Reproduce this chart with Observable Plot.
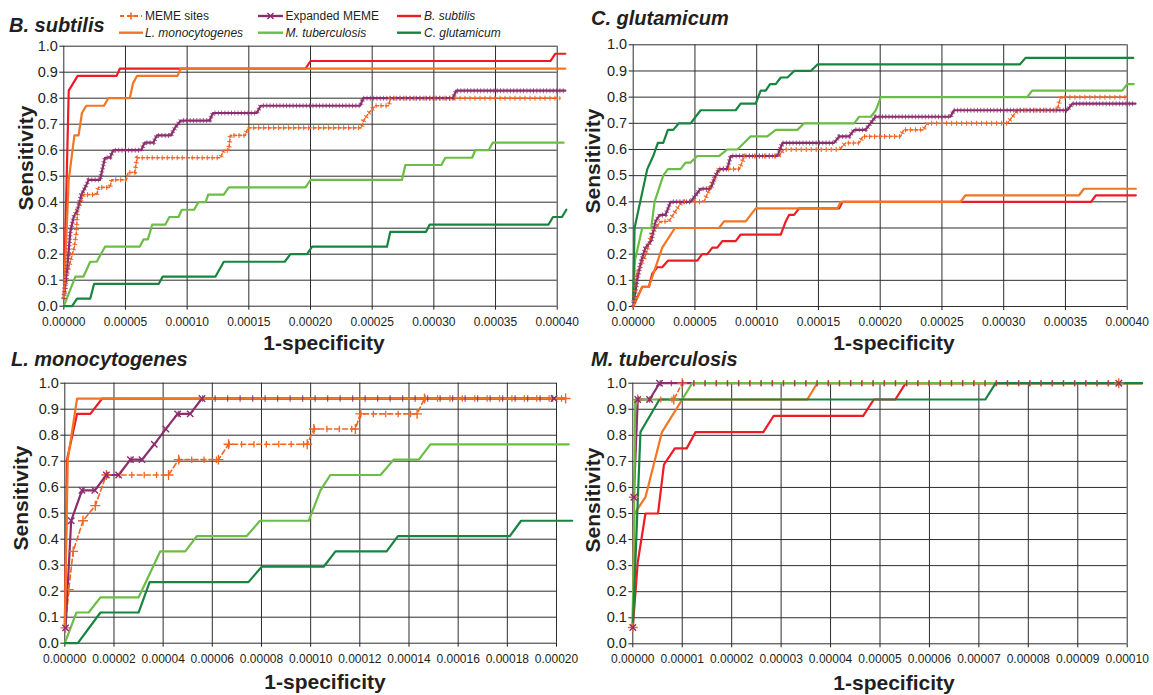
<!DOCTYPE html>
<html><head><meta charset="utf-8">
<script src="https://cdn.jsdelivr.net/npm/d3@7"></script>
<script src="https://cdn.jsdelivr.net/npm/@observablehq/plot@0.6"></script>
<style>
body{margin:0;background:#fff;}
#root{position:relative;width:1153px;height:695px;overflow:hidden;background:#fff;font-family:"Liberation Sans",Arial,sans-serif;color:#231f20;}
.pan{position:absolute;}
#over{position:absolute;left:0;top:0;pointer-events:none;}
</style></head>
<body><div id="root"></div>
<script>
// ---------- tick values ----------
const yTicks = [0,0.1,0.2,0.3,0.4,0.5,0.6,0.7,0.8,0.9,1.0];
const xTicksTop = [0,0.00005,0.0001,0.00015,0.0002,0.00025,0.0003,0.00035,0.0004];
const xTicksLmon = [0,0.00002,0.00004,0.00006,0.00008,0.0001,0.00012,0.00014,0.00016,0.00018,0.0002];
const xTicksMtb = [0,0.00001,0.00002,0.00003,0.00004,0.00005,0.00006,0.00007,0.00008,0.00009,0.0001];

const panelTitles = ["B. subtilis","C. glutamicum","L. monocytogenes","M. tuberculosis"];
const seriesNames = ["MEME sites","Expanded MEME","B. subtilis","L. monocytogenes","M. tuberculosis","C. glutamicum"];

// ---------- Panel 1: B. subtilis ----------
const bsub_meme = [[0,0.029],[0.19e-5,0.114],[0.53e-5,0.171],[0.86e-5,0.229],[1.02e-5,0.286],[1.12e-5,0.371],[1.34e-5,0.4],[1.60e-5,0.429],[2.67e-5,0.429],[2.81e-5,0.457],[3.74e-5,0.457],[3.88e-5,0.486],[5.08e-5,0.486],[5.21e-5,0.514],[5.75e-5,0.514],[5.94e-5,0.571],[12.70e-5,0.571],[12.97e-5,0.6],[13.37e-5,0.6],[13.50e-5,0.657],[14.71e-5,0.657],[14.92e-5,0.686],[24.12e-5,0.686],[24.31e-5,0.714],[24.72e-5,0.743],[25.26e-5,0.771],[26.34e-5,0.771],[26.47e-5,0.8],[40.24e-5,0.8]];
const bsub_exp = [[0,0.029],[0.27e-5,0.143],[0.53e-5,0.286],[0.80e-5,0.343],[1.12e-5,0.371],[1.42e-5,0.429],[1.74e-5,0.457],[2.01e-5,0.486],[2.94e-5,0.486],[3.34e-5,0.571],[3.74e-5,0.571],[4.01e-5,0.6],[6.28e-5,0.6],[6.55e-5,0.629],[7.27e-5,0.629],[7.54e-5,0.657],[8.69e-5,0.657],[9.01e-5,0.686],[9.49e-5,0.714],[11.82e-5,0.714],[12.09e-5,0.743],[15.64e-5,0.743],[15.96e-5,0.771],[24.04e-5,0.771],[24.26e-5,0.8],[31.56e-5,0.8],[31.8e-5,0.829],[40.66e-5,0.829]];
const bsub_bsub = [[0,0.029],[0.40e-5,0.829],[1.12e-5,0.886],[4.28e-5,0.886],[4.55e-5,0.914],[19.6e-5,0.914],[20.0e-5,0.943],[39.45e-5,0.943],[39.85e-5,0.971],[40.66e-5,0.971]];
const bsub_lmon = [[0,0.029],[0.40e-5,0.486],[0.86e-5,0.657],[1.20e-5,0.657],[1.47e-5,0.743],[1.82e-5,0.771],[3.26e-5,0.771],[3.61e-5,0.8],[5.35e-5,0.8],[5.61e-5,0.857],[5.94e-5,0.886],[9.22e-5,0.886],[9.49e-5,0.914],[40.66e-5,0.914]];
const bsub_mtb = [[0,0],[0.94e-5,0.114],[1.60e-5,0.114],[2.14e-5,0.171],[2.67e-5,0.171],[3.34e-5,0.229],[6.15e-5,0.229],[6.47e-5,0.257],[6.82e-5,0.257],[7.17e-5,0.314],[8.24e-5,0.314],[8.56e-5,0.343],[9.30e-5,0.343],[9.57e-5,0.371],[10.56e-5,0.371],[10.91e-5,0.4],[11.50e-5,0.4],[11.71e-5,0.429],[12.97e-5,0.429],[13.37e-5,0.457],[19.59e-5,0.457],[20.0e-5,0.486],[27.42e-5,0.486],[27.69e-5,0.543],[30.61e-5,0.543],[30.93e-5,0.571],[33.1e-5,0.571],[33.36e-5,0.6],[34.44e-5,0.6],[34.77e-5,0.629],[40.52e-5,0.629]];
const bsub_cglu = [[0,0],[0.67e-5,0],[1.07e-5,0.029],[2.14e-5,0.029],[2.46e-5,0.086],[7.70e-5,0.086],[8.02e-5,0.114],[12.30e-5,0.114],[12.97e-5,0.171],[17.91e-5,0.171],[18.37e-5,0.2],[19.72e-5,0.2],[20.13e-5,0.229],[26.2e-5,0.229],[26.47e-5,0.286],[29.37e-5,0.286],[29.66e-5,0.314],[39.3e-5,0.314],[39.66e-5,0.343],[40.39e-5,0.343],[40.74e-5,0.371]];

// ---------- Panel 2: C. glutamicum ----------
const cglu_meme = [[0,0],[0.27e-5,0.125],[1.05e-5,0.2],[1.46e-5,0.275],[1.81e-5,0.3],[2.22e-5,0.325],[2.89e-5,0.325],[3.57e-5,0.375],[3.95e-5,0.4],[5.73e-5,0.4],[6.4e-5,0.475],[6.95e-5,0.525],[8.6e-5,0.525],[9.0e-5,0.575],[11.8e-5,0.575],[12.2e-5,0.6],[16.7e-5,0.6],[17.2e-5,0.625],[18.3e-5,0.625],[18.6e-5,0.65],[21.65e-5,0.65],[21.9e-5,0.675],[23.5e-5,0.675],[23.8e-5,0.7],[30.3e-5,0.7],[30.7e-5,0.725],[31.1e-5,0.75],[34.33e-5,0.75],[34.6e-5,0.8],[40.0e-5,0.8]];
const cglu_exp = [[0,0],[0.32e-5,0.1],[0.65e-5,0.175],[1.00e-5,0.225],[1.46e-5,0.25],[1.81e-5,0.325],[2.16e-5,0.35],[2.62e-5,0.35],[3.03e-5,0.4],[4.65e-5,0.4],[5.05e-5,0.425],[5.46e-5,0.45],[6.27e-5,0.45],[6.68e-5,0.5],[6.95e-5,0.525],[7.62e-5,0.525],[7.89e-5,0.575],[11.68e-5,0.575],[12.08e-5,0.625],[16.27e-5,0.625],[16.68e-5,0.65],[17.49e-5,0.65],[17.89e-5,0.675],[18.81e-5,0.675],[19.62e-5,0.725],[25.69e-5,0.725],[25.96e-5,0.75],[35.14e-5,0.75],[35.55e-5,0.775],[40.67e-5,0.775]];
const cglu_bsub = [[0,0],[0.73e-5,0.075],[1.27e-5,0.075],[1.54e-5,0.125],[1.95e-5,0.15],[2.35e-5,0.15],[2.81e-5,0.175],[5.19e-5,0.175],[5.59e-5,0.2],[6.0e-5,0.2],[6.41e-5,0.225],[6.81e-5,0.225],[7.22e-5,0.25],[8.30e-5,0.25],[8.70e-5,0.275],[11.95e-5,0.275],[12.35e-5,0.325],[12.62e-5,0.35],[13.03e-5,0.35],[13.43e-5,0.375],[16.68e-5,0.375],[16.95e-5,0.4],[37.07e-5,0.4],[37.47e-5,0.425],[40.7e-5,0.425]];
const cglu_lmon = [[0,0],[0.73e-5,0.075],[1.27e-5,0.075],[2.35e-5,0.225],[3.38e-5,0.3],[6.95e-5,0.3],[7.35e-5,0.325],[9.11e-5,0.325],[9.92e-5,0.375],[16.54e-5,0.375],[16.81e-5,0.4],[26.5e-5,0.4],[26.9e-5,0.425],[36.1e-5,0.425],[36.5e-5,0.45],[40.7e-5,0.45]];
const cglu_mtb = [[0,0.025],[0.14e-5,0.175],[0.73e-5,0.3],[1.46e-5,0.3],[1.73e-5,0.4],[2.43e-5,0.5],[2.81e-5,0.525],[3.84e-5,0.525],[4.24e-5,0.55],[4.65e-5,0.55],[5.19e-5,0.575],[6.95e-5,0.575],[7.62e-5,0.6],[8.43e-5,0.6],[8.97e-5,0.625],[9.51e-5,0.65],[10.86e-5,0.65],[11.54e-5,0.675],[13.30e-5,0.675],[13.84e-5,0.7],[17.89e-5,0.7],[18.30e-5,0.725],[19.24e-5,0.725],[19.65e-5,0.75],[20.05e-5,0.8],[31.9e-5,0.8],[32.3e-5,0.825],[39.6e-5,0.825],[40.0e-5,0.85],[40.53e-5,0.85]];
const cglu_cglu = [[0,0.025],[0.11e-5,0.3],[1.14e-5,0.525],[1.62e-5,0.575],[2.0e-5,0.625],[2.43e-5,0.625],[2.81e-5,0.675],[3.24e-5,0.675],[3.70e-5,0.7],[4.65e-5,0.7],[5.46e-5,0.75],[8.30e-5,0.75],[8.70e-5,0.775],[9.92e-5,0.775],[10.32e-5,0.825],[10.73e-5,0.825],[11.08e-5,0.85],[11.54e-5,0.85],[11.95e-5,0.875],[12.49e-5,0.875],[13.03e-5,0.9],[14.38e-5,0.9],[14.92e-5,0.925],[31.3e-5,0.925],[31.77e-5,0.95],[40.49e-5,0.95]];

// ---------- Panel 3: L. monocytogenes ----------
const lmon_meme = [[0.03e-5,0.059],[0.16e-5,0.206],[0.34e-5,0.353],[0.74e-5,0.471],[1.24e-5,0.529],[1.69e-5,0.647],[4.22e-5,0.647],[4.63e-5,0.706],[6.25e-5,0.706],[6.66e-5,0.765],[9.86e-5,0.765],[10.13e-5,0.824],[11.82e-5,0.824],[12.02e-5,0.882],[14.33e-5,0.882],[14.63e-5,0.941],[20.37e-5,0.941]];
const lmon_exp = [[0.03e-5,0.059],[0.26e-5,0.471],[0.70e-5,0.588],[1.22e-5,0.588],[1.69e-5,0.647],[2.19e-5,0.647],[2.67e-5,0.706],[3.14e-5,0.706],[3.64e-5,0.765],[4.11e-5,0.824],[4.59e-5,0.882],[5.10e-5,0.882],[5.58e-5,0.941],[19.9e-5,0.941]];
const lmon_bsub = [[0,0.059],[0.09e-5,0.706],[0.50e-5,0.882],[1.04e-5,0.882],[1.52e-5,0.941],[20.37e-5,0.941]];
const lmon_lmon = [[0,0.059],[0.12e-5,0.706],[0.50e-5,0.941],[20.37e-5,0.941]];
const lmon_mtb = [[0,0],[0.47e-5,0.118],[0.97e-5,0.118],[1.45e-5,0.176],[3.00e-5,0.176],[3.88e-5,0.353],[4.90e-5,0.353],[5.37e-5,0.412],[7.40e-5,0.412],[7.94e-5,0.471],[9.92e-5,0.471],[10.4e-5,0.588],[10.8e-5,0.647],[12.84e-5,0.647],[13.38e-5,0.706],[14.4e-5,0.706],[14.87e-5,0.765],[20.5e-5,0.765]];
const lmon_cglu = [[0,0],[0.53e-5,0],[1.45e-5,0.118],[3.0e-5,0.118],[3.45e-5,0.235],[7.47e-5,0.235],[8.01e-5,0.294],[10.53e-5,0.294],[11.01e-5,0.353],[13.09e-5,0.353],[13.55e-5,0.412],[18.1e-5,0.412],[18.56e-5,0.471],[20.64e-5,0.471]];

// ---------- Panel 4: M. tuberculosis ----------
const mtb_meme = [[0,0.0625],[0.02e-5,0.5625],[0.10e-5,0.9375],[0.83e-5,0.9375],[1.0e-5,1.0],[9.83e-5,1.0]];
const mtb_exp = [[0,0.0625],[0.02e-5,0.5625],[0.10e-5,0.9375],[0.34e-5,0.9375],[0.54e-5,1.0],[9.83e-5,1.0]];
const mtb_bsub = [[0,0.0625],[0.10e-5,0.3125],[0.256e-5,0.5],[0.51e-5,0.5],[0.63e-5,0.6875],[0.85e-5,0.75],[1.09e-5,0.75],[1.27e-5,0.8125],[2.64e-5,0.8125],[2.85e-5,0.875],[4.66e-5,0.875],[4.875e-5,0.9375],[5.31e-5,0.9375],[5.52e-5,1.0],[10.3e-5,1.0]];
const mtb_lmon = [[0,0.0625],[0.034e-5,0.5],[0.256e-5,0.5625],[0.59e-5,0.8125],[1.0e-5,0.9375],[3.53e-5,0.9375],[3.73e-5,1.0],[10.3e-5,1.0]];
const mtb_mtb = [[0,0.0625],[0.05e-5,0.9375],[1.0e-5,0.9375],[1.2e-5,1.0],[10.3e-5,1.0]];
const mtb_cglu = [[0,0.0625],[0.155e-5,0.8125],[0.54e-5,0.9375],[7.13e-5,0.9375],[7.34e-5,1.0],[10.3e-5,1.0]];

// ---------- styling ----------
const COL = {meme:"#f26522", exp:"#8c2d6e", bsub:"#ed1c24", lmon:"#f47521", mtb:"#6cbd45", cglu:"#17843f"};
const GRID = "#2e2e2e";
const FONT = '"Liberation Sans", Arial, sans-serif';

const panels = [
  {title:0, xTicks:xTicksTop, xMax:0.0004, left:0, top:30, width:576, height:310, ml:63.3, mr:19.3, mt:15.7, mb:34.3,
   d:{meme:bsub_meme, exp:bsub_exp, bsub:bsub_bsub, lmon:bsub_lmon, mtb:bsub_mtb, cglu:bsub_cglu},
   dense:true, memeLine:"3,2", memeMk:"1,4", expMk:"1,2.3", mk:5},
  {title:1, xTicks:xTicksTop, xMax:0.0004, left:576, top:30, width:577, height:310, ml:56.7, mr:26.3, mt:14.3, mb:34,
   d:{meme:cglu_meme, exp:cglu_exp, bsub:cglu_bsub, lmon:cglu_lmon, mtb:cglu_mtb, cglu:cglu_cglu},
   dense:true, memeLine:"3,2", memeMk:"1,4", expMk:"1,2.3", mk:5},
  {title:2, xTicks:xTicksLmon, xMax:0.0002, left:0, top:365, width:576, height:310, ml:64.3, mr:20, mt:17.7, mb:32.3,
   d:{meme:lmon_meme, exp:lmon_exp, bsub:lmon_bsub, lmon:lmon_lmon, mtb:lmon_mtb, cglu:lmon_cglu},
   dense:false, memeLine:"5,3", memeMk:"1.3,11.1", expMk:"1.3,11.2", mk:6.5},
  {title:3, xTicks:xTicksMtb, xMax:0.0001, left:576, top:365, width:577, height:310, ml:56.3, mr:26.3, mt:17.7, mb:31.7,
   d:{meme:mtb_meme, exp:mtb_exp, bsub:mtb_bsub, lmon:mtb_lmon, mtb:mtb_mtb, cglu:mtb_cglu},
   dense:false, memeLine:"4,3", memeMk:"1.3,9.9", expMk:"1.3,9.9", mk:6}
];

// horizontal runs of a series (pairs of consecutive read points with equal y)
function flats(series) {
  const rows = [];
  for (let i = 1; i < series.length; i++) {
    if (series[i][1] === series[i-1][1]) {
      rows.push({seg:i, x:series[i-1][0], y:series[i-1][1]});
      rows.push({seg:i, x:series[i][0], y:series[i][1]});
    }
  }
  return rows;
}

const root = document.getElementById("root");

for (const p of panels) {
  const L = (data, o) => Plot.line(data, {x: d => d[0], y: d => d[1], ...o});
  let markerMarks;
  if (p.dense) {
    markerMarks = [
      L(p.d.meme, {stroke: COL.meme, strokeWidth: p.mk, strokeDasharray: p.memeMk, strokeLinecap: "butt", strokeLinejoin: "miter"}),
      L(p.d.exp, {stroke: COL.exp, strokeWidth: p.mk, strokeDasharray: p.expMk, strokeLinecap: "butt", strokeLinejoin: "miter", strokeOpacity: 0.75})
    ];
  } else {
    markerMarks = [
      Plot.line(flats(p.d.meme), {x:"x", y:"y", z:"seg", stroke: COL.meme, strokeWidth: p.mk, strokeDasharray: p.memeMk, strokeLinecap: "butt"}),
      Plot.dot(p.d.meme, {x: d => d[0], y: d => d[1], symbol: "plus", r: 3.3, stroke: COL.meme, strokeWidth: 1.4}),
      Plot.line(flats(p.d.exp), {x:"x", y:"y", z:"seg", stroke: COL.exp, strokeWidth: p.mk, strokeDasharray: p.expMk, strokeLinecap: "butt", strokeOpacity: 0.8}),
      Plot.dot(p.d.exp, {x: d => d[0], y: d => d[1], symbol: "times", r: 3, stroke: COL.exp, strokeWidth: 1.4})
    ];
  }
  const chart = Plot.plot({
    width: p.width, height: p.height,
    marginLeft: p.ml, marginRight: p.mr, marginTop: p.mt, marginBottom: p.mb,
    x: {type: "linear", domain: [0, p.xMax]},
    y: {type: "linear", domain: [0, 1]},
    style: {fontFamily: FONT, color: "#231f20", background: "transparent", overflow: "visible"},
    marks: [
      Plot.gridY(yTicks, {stroke: GRID, strokeOpacity: 1, strokeWidth: 1}),
      Plot.gridX(p.xTicks, {stroke: GRID, strokeOpacity: 1, strokeWidth: 1}),
      Plot.axisY(yTicks, {tickFormat: d => d.toFixed(1), tickSize: 4, tickPadding: 2, fontSize: 14.5, label: null}),
      Plot.axisX(p.xTicks, {tickFormat: d => d.toFixed(5), tickSize: 4, tickPadding: 7, fontSize: 12, label: null}),
      L(p.d.meme, {stroke: COL.meme, strokeWidth: 1.6, strokeDasharray: p.memeLine}),
      L(p.d.exp, {stroke: COL.exp, strokeWidth: 2.2}),
      L(p.d.bsub, {stroke: COL.bsub, strokeWidth: 2.2}),
      L(p.d.lmon, {stroke: COL.lmon, strokeWidth: 2.2}),
      L(p.d.mtb, {stroke: COL.mtb, strokeWidth: 2.2}),
      L(p.d.cglu, {stroke: COL.cglu, strokeWidth: 2.2}),
      ...markerMarks
    ]
  });
  const div = document.createElement("div");
  div.className = "pan";
  div.style.left = p.left + "px";
  div.style.top = p.top + "px";
  div.appendChild(chart);
  root.appendChild(div);
}

// ---------- overlay: titles, axis labels, legend ----------
const svg = d3.select(root).append("svg").attr("id","over").attr("width",1153).attr("height",695)
  .style("font-family", FONT).attr("fill", "#231f20");

const titlePos = [[9,31.5],[591,25],[11,366],[591,366]];
titlePos.forEach(([x,y],i) => svg.append("text").attr("x",x).attr("y",y)
  .attr("font-size",20).attr("font-weight","bold").attr("font-style","italic").text(panelTitles[i]));

const yLabPos = [[32.5,158],[600,161],[28,498],[600,500]];
yLabPos.forEach(([x,y]) => svg.append("text").attr("transform",`translate(${x},${y}) rotate(-90)`)
  .attr("text-anchor","middle").attr("font-size",21).attr("font-weight","bold").text("Sensitivity"));

const xLabPos = [[324,349.5],[894,350],[325,689],[894,690]];
xLabPos.forEach(([x,y]) => svg.append("text").attr("x",x).attr("y",y)
  .attr("text-anchor","middle").attr("font-size",21).attr("font-weight","bold").text("1-specificity"));

const legendItems = [
  {name: seriesNames[0], key:"meme", x1:120, x2:142, tx:145, y:16, italic:false},
  {name: seriesNames[1], key:"exp", x1:258, x2:283, tx:285.5, y:16, italic:false},
  {name: seriesNames[2], key:"bsub", x1:397, x2:421, tx:424, y:16, italic:true},
  {name: seriesNames[3], key:"lmon", x1:119, x2:143, tx:145, y:32.7, italic:true},
  {name: seriesNames[4], key:"mtb", x1:258, x2:283, tx:285.5, y:32.7, italic:true},
  {name: seriesNames[5], key:"cglu", x1:397, x2:421, tx:424, y:32.7, italic:true}
];
for (const it of legendItems) {
  const g = svg.append("g");
  g.append("line").attr("x1",it.x1).attr("x2",it.x2).attr("y1",it.y).attr("y2",it.y)
    .attr("stroke",COL[it.key]).attr("stroke-width", it.key==="meme"?1.8:2.4)
    .attr("stroke-dasharray", it.key==="meme"?"4,3":null);
  const cx = (it.x1+it.x2)/2;
  if (it.key==="meme") {
    g.append("path").attr("d",`M${cx-3.5},${it.y}H${cx+3.5}M${cx},${it.y-3.5}V${it.y+3.5}`).attr("stroke",COL.meme).attr("stroke-width",1.6);
  } else if (it.key==="exp") {
    g.append("path").attr("d",`M${cx-3},${it.y-3}L${cx+3},${it.y+3}M${cx-3},${it.y+3}L${cx+3},${it.y-3}`).attr("stroke",COL.exp).attr("stroke-width",1.4);
  }
  g.append("text").attr("x",it.tx).attr("y",it.y+4.3).attr("font-size",12)
    .attr("font-style", it.italic?"italic":"normal").text(it.name);
}
</script>
</body></html>
